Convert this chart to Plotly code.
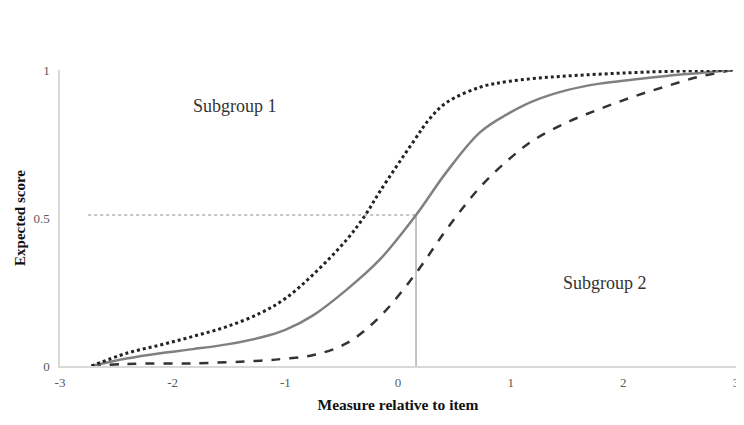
import plotly.graph_objects as go

# Data
solid_x = [-2.72, -2.41, -2.11, -1.82, -1.52, -1.22, -1.0, -0.75, -0.455, -0.16, 0.16, 0.43, 0.73, 0.99, 1.2, 1.5, 1.79, 2.09, 2.38, 2.68, 2.97]
solid_y = [0.0, 0.025, 0.043, 0.057, 0.073, 0.096, 0.122, 0.172, 0.258, 0.36, 0.51, 0.655, 0.79, 0.855, 0.895, 0.932, 0.954, 0.968, 0.98, 0.99, 1.0]

dotted_x = [-2.72, -2.41, -2.11, -1.82, -1.52, -1.22, -1.0, -0.75, -0.455, -0.29, -0.16, 0.14, 0.28, 0.43, 0.73, 0.99, 1.39, 1.79, 2.2, 2.68, 2.97]
dotted_y = [0.0, 0.043, 0.071, 0.10, 0.133, 0.179, 0.228, 0.31, 0.427, 0.51, 0.59, 0.76, 0.835, 0.89, 0.942, 0.962, 0.977, 0.986, 0.993, 0.998, 1.0]

dashed_x = [-2.72, -2.41, -1.82, -1.22, -1.0, -0.75, -0.455, -0.16, 0.16, 0.43, 0.73, 0.99, 1.2, 1.5, 1.79, 2.09, 2.38, 2.68, 2.97]
dashed_y = [0.0, 0.007, 0.009, 0.018, 0.025, 0.037, 0.077, 0.167, 0.314, 0.461, 0.605, 0.70, 0.762, 0.823, 0.868, 0.91, 0.945, 0.978, 1.0]

ref_h_x = [-2.75, 0.16]
ref_h_y = [0.51, 0.51]
ref_v_x = [0.16, 0.16]
ref_v_y = [0.0, 0.51]

x_ticks = [-3, -2, -1, 0, 1, 2, 3]
x_tick_labels = ["-3", "-2", "-1", "0", "1", "2", "3"]
y_ticks = [0, 0.5, 1]
y_tick_labels = ["0", "0.5", "1"]

labels = ["Subgroup 1", "Subgroup 2"]
label_x = [-1.45, 1.84]
label_y = [0.88, 0.281]

SERIF = "Liberation Serif"

fig = go.Figure()
fig.add_trace(go.Scatter(x=ref_h_x, y=ref_h_y, mode="lines",
                         line=dict(color="#8a8a8a", width=1, dash="dot"), hoverinfo="skip"))
fig.add_trace(go.Scatter(x=ref_v_x, y=ref_v_y, mode="lines",
                         line=dict(color="#8a8a8a", width=1), hoverinfo="skip"))
fig.add_trace(go.Scatter(x=dashed_x, y=dashed_y, mode="lines", line_shape="spline",
                         line=dict(color="#333333", width=2.5, dash="dash", smoothing=1.0)))
fig.add_trace(go.Scatter(x=solid_x, y=solid_y, mode="lines", line_shape="spline",
                         line=dict(color="#808080", width=2.5, smoothing=1.0)))
fig.add_trace(go.Scatter(x=dotted_x, y=dotted_y, mode="lines", line_shape="spline",
                         line=dict(color="#222222", width=3, dash="dot", smoothing=1.0)))

for t, xx, yy in zip(labels, label_x, label_y):
    fig.add_annotation(x=xx, y=yy, text=t, showarrow=False,
                       font=dict(family=SERIF, size=18, color="#333333"))

# page body has an 8px margin, so the figure is sized to fit the 744x425 window
fig.update_layout(
    width=736, height=417,
    margin=dict(l=52, r=8, t=62, b=59),
    paper_bgcolor="white", plot_bgcolor="white",
    showlegend=False,
    font=dict(family=SERIF),
)
fig.update_xaxes(range=[-3, 3], tickvals=x_ticks, ticktext=x_tick_labels, showgrid=False,
                 zeroline=False, automargin=False,
                 showline=True, linecolor="#d9d9d9", linewidth=1.5, ticks="",
                 ticklabelstandoff=4,
                 tickfont=dict(family=SERIF, size=13, color="#595959"),
                 title=dict(text="<b>Measure relative to item</b>", standoff=10,
                            font=dict(family=SERIF, size=15.5, color="#111111")))
fig.update_yaxes(range=[0, 1], tickvals=y_ticks, ticktext=y_tick_labels, showgrid=False,
                 zeroline=False, automargin=False, showline=True, linecolor="#d9d9d9",
                 linewidth=1.5, ticks="", ticklabelstandoff=6,
                 tickfont=dict(family=SERIF, size=13, color="#595959"),
                 title=dict(text="<b>Expected score</b>", standoff=4,
                            font=dict(family=SERIF, size=15, color="#111111")))

fig.write_html("out.html")
